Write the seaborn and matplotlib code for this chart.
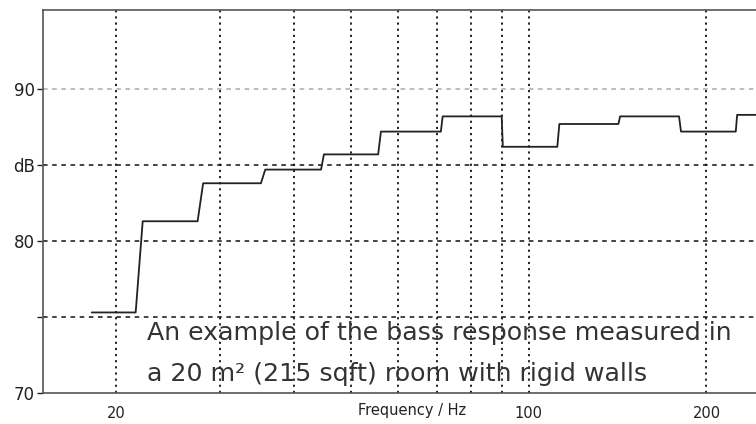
import matplotlib
matplotlib.use('Agg')
import numpy as np
import pandas as pd
import matplotlib.pyplot as plt
import seaborn as sns

# Step response (corner points of each band)
freq_hz = [18.2, 21.6, 22.2, 27.5, 28.1, 35.2, 35.8, 44.5, 45.0, 55.6, 56.2, 71.0,
           71.5, 90.0, 90.4, 111.8, 112.7, 141.9, 142.8, 179.7, 181.1, 224.2, 225.4, 250.0]
level_db = [75.3, 75.3, 81.3, 81.3, 83.8, 83.8, 84.7, 84.7, 85.7, 85.7, 87.2, 87.2,
            88.2, 88.2, 86.2, 86.2, 87.7, 87.7, 88.2, 88.2, 87.2, 87.2, 88.3, 88.3]

x_major = [20, 100, 200]
x_major_labels = ['20', '100', '200']
x_minor = [30, 40, 50, 60, 70, 80, 90]
y_ticks = [70, 75, 80, 85, 90]
y_labels = ['70', '', '80', 'dB', '90']

note_lines = ['An example of the bass response measured in',
              'a 20 m\u00b2 (215 sqft) room with rigid walls']

sns.set_style('white')
plt.rcParams['font.family'] = ['DejaVu Sans']

df = pd.DataFrame({'Frequency': freq_hz, 'Level': level_db})

fig = plt.figure(figsize=(7.56, 4.24), dpi=100)
ax = fig.add_axes([43 / 756, 31 / 424, 713 / 756, 383 / 424])

sns.lineplot(data=df, x='Frequency', y='Level', sort=False, estimator=None,
             color='#222222', linewidth=1.3, ax=ax)

ax.set_xscale('log')
ax.set_xlim(15.05, 242.6)
ax.set_ylim(70, 95.2)

ax.set_xticks(x_major)
ax.set_xticklabels(x_major_labels)
ax.set_xticks(x_minor, minor=True)
ax.set_xticklabels([], minor=True)
ax.set_yticks(y_ticks)
ax.set_yticklabels(y_labels)

ax.tick_params(axis='x', which='both', length=0, pad=9, labelsize=10.5, colors='#222222')
ax.tick_params(axis='y', length=4, width=1, pad=2, labelsize=12, colors='#222222', direction='out')
ax.yaxis.set_ticks_position('left')

# grid lines
for f in x_major + x_minor:
    ax.axvline(f, color='#111111', linestyle=(0, (1.2, 2.2)), linewidth=1.3, zorder=0)
for v in [75, 80, 85]:
    ax.axhline(v, color='#111111', linestyle=(0, (3, 3)), linewidth=1.1, zorder=0)
ax.axhline(90, color='#aaaaaa', linestyle=(0, (3, 3)), linewidth=1.1, zorder=0)

for side in ['left', 'top', 'bottom']:
    ax.spines[side].set_color('#555555')
    ax.spines[side].set_linewidth(1.2)
ax.spines['right'].set_visible(False)

ax.set_ylabel('')
ax.set_xlabel('')
fig.text(412 / 756, 1 - 411 / 424, 'Frequency / Hz', fontsize=10.5, color='#222222',
         ha='center', va='center')

for line, ypix in zip(note_lines, [333, 374]):
    ax.text(147 / 756, 1 - ypix / 424, line, transform=fig.transFigure,
            fontsize=18.2, color='#333333', va='center', ha='left')

fig.savefig('out.png', dpi=100)
